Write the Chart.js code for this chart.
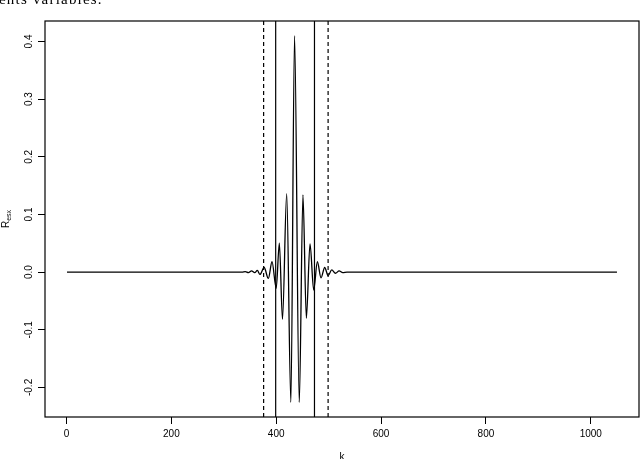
<!DOCTYPE html>
<html>
<head>
<meta charset="utf-8">
<script src="https://cdn.jsdelivr.net/npm/chart.js@4.4.1/dist/chart.umd.min.js"></script>
<style>
  body { margin: 0; background: #fff; }
  #wrap { position: relative; width: 640px; height: 459px; overflow: hidden; }
  #topText { position: absolute; left: -1px; top: -9px; font-family: "Liberation Serif", serif; font-size: 15px; letter-spacing: 1.2px; color: #000; }
  #c { position: absolute; left: 0; top: 0; }
</style>
</head>
<body>
<div id="wrap">
  <canvas id="c" width="640" height="459"></canvas>
  <div id="topText">ents variables.</div>
</div>
<script>
// values
var kValues = [1, 335, 341, 347, 353, 359, 364, 369, 377, 385, 392, 400, 406, 412, 420, 428, 435, 444, 451, 457.5, 464.5, 471.5, 478.5, 485.5, 492.5, 499, 506, 513, 520, 527, 535, 1050];
var rValues = [0, 0, 0.001, -0.001, 0.002, -0.001, 0.003, -0.004, 0.008, -0.011, 0.018, -0.028, 0.050, -0.082, 0.136, -0.226, 0.410, -0.226, 0.134, -0.080, 0.049, -0.031, 0.018, -0.010, 0.008, -0.006, 0.004, -0.002, 0.002, -0.001, 0, 0];
var solidLines = [399, 473];
var dashedLines = [376, 499];
var xTicks = [0, 200, 400, 600, 800, 1000];
var xTickLabels = ["0", "200", "400", "600", "800", "1000"];
var yTicks = [-0.2, -0.1, 0.0, 0.1, 0.2, 0.3, 0.4];
var yTickLabels = ["-0.2", "-0.1", "0.0", "0.1", "0.2", "0.3", "0.4"];

var xMin = -41, xMax = 1092;
var yMin = -0.2513, yMax = 0.4355;
var fontFam = "'Liberation Sans', Arial, sans-serif";

var curve = [];
for (var i = 0; i < kValues.length; i++) {
	curve.push({x: kValues[i], y: rValues[i]});
}

function vline(x, dashed) {
	return {
		data: [{x: x, y: yMin}, {x: x, y: yMax}],
		borderColor: '#000',
		borderWidth: 1.2,
		borderDash: dashed ? [4, 3] : [],
		pointRadius: 0,
		tension: 0
	};
}

var datasets = [{
	data: curve,
	borderColor: '#000',
	borderWidth: 1.3,
	pointRadius: 0,
	cubicInterpolationMode: 'monotone'
}];
solidLines.forEach(function(x){ datasets.push(vline(x, false)); });
dashedLines.forEach(function(x){ datasets.push(vline(x, true)); });

var framePlugin = {
	id: 'frame',
	afterDraw: function(chart) {
		var ctx = chart.ctx;
		var a = chart.chartArea;
		var ys = chart.scales.y;
		ctx.save();
		ctx.strokeStyle = '#000';
		ctx.lineWidth = 1.2;
		ctx.strokeRect(a.left, a.top, a.right - a.left, a.bottom - a.top);

		// y tick labels, rotated like R does
		ctx.fillStyle = '#000';
		ctx.font = "10px " + fontFam;
		ctx.textAlign = 'center';
		ctx.textBaseline = 'middle';
		for (var i = 0; i < yTicks.length; i++) {
			var py = ys.getPixelForValue(yTicks[i]);
			ctx.save();
			ctx.translate(29, py);
			ctx.rotate(-Math.PI / 2);
			ctx.fillText(yTickLabels[i], 0, 0);
			ctx.restore();
		}

		// y title R_esx
		var midY = (a.top + a.bottom) / 2;
		ctx.save();
		ctx.translate(6, midY);
		ctx.rotate(-Math.PI / 2);
		ctx.font = "10px " + fontFam;
		var wR = ctx.measureText("R").width;
		ctx.font = "7px " + fontFam;
		var wS = ctx.measureText("esx").width;
		var start = -(wR + wS) / 2;
		ctx.textAlign = 'left';
		ctx.font = "10px " + fontFam;
		ctx.fillText("R", start, 0);
		ctx.font = "7px " + fontFam;
		ctx.fillText("esx", start + wR, 3);
		ctx.restore();

		// x title
		ctx.font = "10px " + fontFam;
		ctx.textAlign = 'center';
		ctx.fillText("k", (a.left + a.right) / 2, 457);
		ctx.restore();
	}
};

var chart = new Chart(document.getElementById('c'), {
	type: 'line',
	data: { datasets: datasets },
	options: {
		responsive: false,
		animation: false,
		devicePixelRatio: 1,
		layout: { padding: { left: 0, right: 1, top: 21, bottom: 0 } },
		plugins: { legend: { display: false }, tooltip: { enabled: false } },
		scales: {
			x: {
				type: 'linear',
				min: xMin,
				max: xMax,
				afterBuildTicks: function(s){ s.ticks = xTicks.map(function(v){ return {value: v}; }); },
				afterFit: function(s){ s.height = 42; },
				grid: { drawOnChartArea: false, drawTicks: true, tickLength: 7, color: '#000', lineWidth: 1 },
				border: { display: false },
				ticks: {
					color: '#000', font: { family: fontFam, size: 10 }, padding: 4, maxRotation: 0, autoSkip: false,
					callback: function(v){ var j = xTicks.indexOf(v); return j >= 0 ? xTickLabels[j] : ''; }
				}
			},
			y: {
				type: 'linear',
				min: yMin,
				max: yMax,
				afterBuildTicks: function(s){ s.ticks = yTicks.map(function(v){ return {value: v}; }); },
				afterFit: function(s){ s.width = 45; },
				grid: { drawOnChartArea: false, drawTicks: true, tickLength: 7, color: '#000', lineWidth: 1 },
				border: { display: false },
				ticks: { display: false }
			}
		}
	},
	plugins: [framePlugin]
});
</script>
</body>
</html>
